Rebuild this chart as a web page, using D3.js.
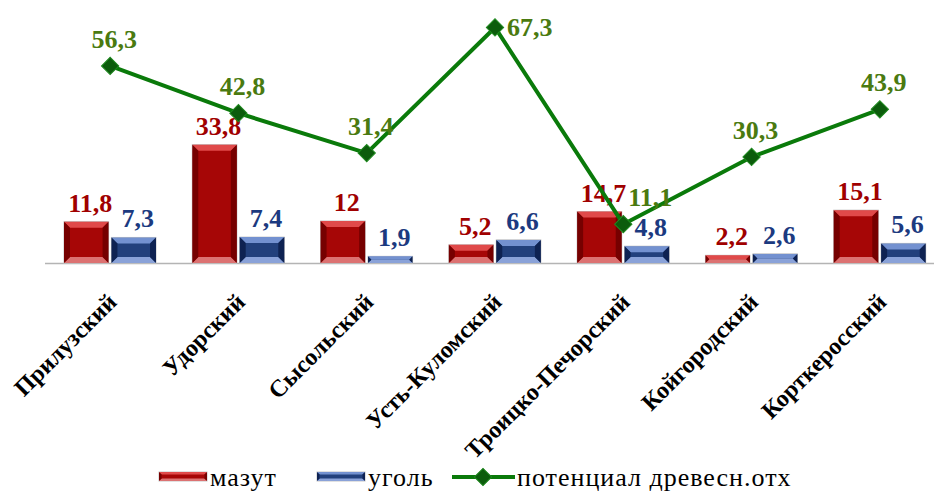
<!DOCTYPE html>
<html>
<head>
<meta charset="utf-8">
<script src="https://cdn.jsdelivr.net/npm/d3@7"></script>
<style>
	body { margin: 0; background: #fff; }
	#chart-holder { width: 934px; height: 492px; }
</style>
</head>
<body>
<div id="chart-holder"></div>
<script>
// районы и значения
const districts = ['Прилузский', 'Удорский', 'Сысольский', 'Усть-Куломский', 'Троицко-Печорский', 'Койгородский', 'Корткеросский'];
const mazut = [11.8, 33.8, 12, 5.2, 14.7, 2.2, 15.1];
const ugol = [7.3, 7.4, 1.9, 6.6, 4.8, 2.6, 5.6];
const potential = [56.3, 42.8, 31.4, 67.3, 11.1, 30.3, 43.9];
const seriesNames = ['мазут', 'уголь', 'потенциал древесн.отх'];

const fmt = v => String(v).replace('.', ',');
const serif = "Times New Roman, Times, Liberation Serif, Tinos, DejaVu Serif, Noto Serif, serif";

const palette = {
	mazut: {face: '#a60606', top: '#e04a4a', bottom: '#dc7272', side: '#760000', label: '#a00000'},
	ugol: {face: '#22407c', top: '#7391d0', bottom: '#8aa2d8', side: '#0e2252', label: '#1c3a80'}
};

const width = 934;
const height = 492;

const svg = d3.select('#chart-holder').append('svg')
	.attr('width', width)
	.attr('height', height)
	.attr('font-family', serif);

const xScale = d3.scaleBand()
	.domain(districts)
	.range([46, 944])
	.padding(0);

const xSub = d3.scaleBand()
	.domain(['mazut', 'ugol'])
	.range([18, 110])
	.paddingInner(0.06);

const yScale = d3.scaleLinear()
	.domain([0, 75])
	.range([263, 0.5]);

// бар с фаской
function bevelBar(g, x0, y0, w, h, c, b) {
	b = Math.min(b, h / 2, w / 2);
	g.append('rect')
		.attr('x', x0).attr('y', y0)
		.attr('width', w).attr('height', h)
		.attr('fill', c.face)
		.attr('stroke', '#c4c4c4')
		.attr('stroke-width', 1);
	const x1 = x0 + w, y1 = y0 + h;
	const polys = [
		[[[x0, y0], [x1, y0], [x1 - b, y0 + b], [x0 + b, y0 + b]], c.top],
		[[[x0, y1], [x1, y1], [x1 - b, y1 - b], [x0 + b, y1 - b]], c.bottom],
		[[[x0, y0], [x0 + b, y0 + b], [x0 + b, y1 - b], [x0, y1]], c.side],
		[[[x1, y0], [x1 - b, y0 + b], [x1 - b, y1 - b], [x1, y1]], c.side]
	];
	polys.forEach(p => {
		g.append('polygon')
			.attr('points', p[0].map(pt => pt.join(',')).join(' '))
			.attr('fill', p[1]);
	});
}

// ось
const xAxis = d3.axisBottom(xScale).tickSize(0);
const xAxisG = svg.append('g')
	.attr('class', 'x-axis')
	.attr('transform', 'translate(0,263.5)')
	.call(xAxis)
	.attr('font-family', serif);
xAxisG.select('.domain')
	.attr('d', 'M45,0H934')
	.attr('stroke', '#b4b4b4')
	.attr('stroke-width', 1.5);
xAxisG.selectAll('.tick text')
	.attr('x', 0).attr('y', 0).attr('dy', 0)
	.attr('transform', 'translate(8,40) rotate(-45)')
	.attr('text-anchor', 'end')
	.attr('font-weight', 'bold')
	.attr('font-size', 24)
	.attr('fill', '#000');

// столбцы
const groups = svg.selectAll('.district')
	.data(districts)
	.enter().append('g')
	.attr('class', 'district')
	.attr('transform', d => 'translate(' + xScale(d) + ',0)');

const barLabelY = [];
groups.each(function (d, i) {
	const g = d3.select(this);
	[['mazut', mazut[i]], ['ugol', ugol[i]]].forEach(s => {
		const x0 = xSub(s[0]);
		const y0 = yScale(s[1]);
		bevelBar(g, x0, y0, xSub.bandwidth(), yScale(0) - y0, palette[s[0]], 6);
		if (s[0] === 'mazut') barLabelY.push(y0 - 10);
		g.append('text')
			.attr('x', x0 + xSub.bandwidth() / 2 + 4)
			.attr('y', y0 - 10)
			.attr('text-anchor', 'middle')
			.attr('font-weight', 'bold')
			.attr('font-size', 26)
			.attr('fill', palette[s[0]].label)
			.text(fmt(s[1]));
	});
});

// линия потенциала
const cx = d => xScale(d) + xScale.bandwidth() / 2;
const line = d3.line()
	.x((d, i) => cx(districts[i]))
	.y(d => yScale(d));

svg.append('path')
	.datum(potential)
	.attr('d', line)
	.attr('fill', 'none')
	.attr('stroke', '#0a7a0a')
	.attr('stroke-width', 4)
	.attr('stroke-linejoin', 'round');

const marker = d3.symbol().type(d3.symbolSquare).size(150);
svg.selectAll('.pt')
	.data(potential)
	.enter().append('path')
	.attr('class', 'pt')
	.attr('d', marker)
	.attr('transform', (d, i) => 'translate(' + cx(districts[i]) + ',' + yScale(d) + ') rotate(45)')
	.attr('fill', '#0c5c0c')
	.attr('stroke', '#1f8a1f')
	.attr('stroke-width', 1);

// подпись сбоку, если сверху не помещается; сдвиг вправо, если рядом подпись столбца
const tooHigh = d => yScale(d) - 36 < 10;
const nearBar = (d, i) => Math.abs((yScale(d) - 20) - barLabelY[i]) < 30;
svg.selectAll('.pt-label')
	.data(potential)
	.enter().append('text')
	.attr('class', 'pt-label')
	.attr('x', (d, i) => tooHigh(d) ? cx(districts[i]) + 12 : cx(districts[i]) + (nearBar(d, i) ? 27 : 4))
	.attr('y', d => tooHigh(d) ? yScale(d) + 9 : yScale(d) - 18)
	.attr('text-anchor', d => tooHigh(d) ? 'start' : 'middle')
	.attr('font-weight', 'bold')
	.attr('font-size', 26)
	.attr('fill', '#4a7a10')
	.text(fmt);

// легенда
const legend = svg.append('g').attr('class', 'legend');
const legendFont = g => g
	.attr('font-size', 26)
	.attr('letter-spacing', 1)
	.attr('fill', '#000');

bevelBar(legend.append('g'), 159, 472, 48, 9, palette.mazut, 2.5);
legend.append('text').attr('x', 210).attr('y', 486).call(legendFont).text(seriesNames[0]);
bevelBar(legend.append('g'), 317, 472, 48, 9, palette.ugol, 2.5);
legend.append('text').attr('x', 368).attr('y', 486).call(legendFont).text(seriesNames[1]);
legend.append('line')
	.attr('x1', 452).attr('x2', 515)
	.attr('y1', 477).attr('y2', 477)
	.attr('stroke', '#0a7a0a')
	.attr('stroke-width', 4);
legend.append('path')
	.attr('d', marker)
	.attr('transform', 'translate(483,477) rotate(45)')
	.attr('fill', '#0c5c0c')
	.attr('stroke', '#1f8a1f');
legend.append('text').attr('x', 517).attr('y', 486).call(legendFont).text(seriesNames[2]);
</script>
</body>
</html>
